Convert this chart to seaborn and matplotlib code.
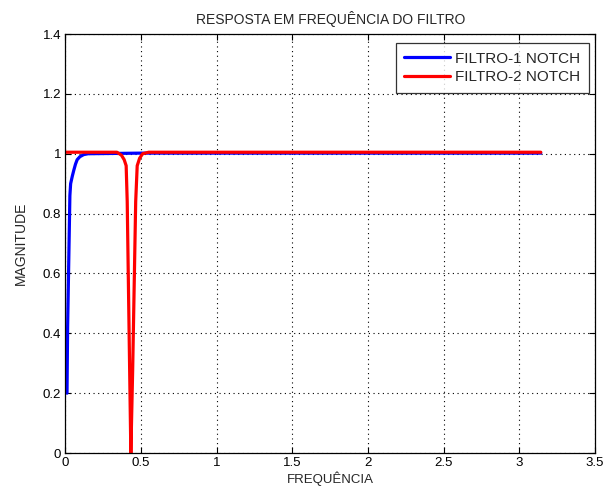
import matplotlib
matplotlib.use("Agg")
import matplotlib.pyplot as plt
import numpy as np
import pandas as pd
import seaborn as sns

# Magnitude response of the two notch filters (frequency in rad/sample)
freq_filtro1 = [0.010, 0.014, 0.029, 0.034, 0.045, 0.055, 0.066, 0.077, 0.095,
                0.120, 0.150, 0.500, 1.000, 2.000, 3.1416]
mag_filtro1 = [0.20, 0.42, 0.86, 0.90, 0.925, 0.945, 0.965, 0.98, 0.99,
               0.997, 1.000, 1.002, 1.002, 1.002, 1.002]

freq_filtro2 = [0.000, 0.340, 0.370, 0.388, 0.401, 0.408, 0.432, 0.444, 0.464,
                0.474, 0.490, 0.510, 0.550, 1.000, 2.000, 3.1416]
mag_filtro2 = [1.005, 1.005, 0.995, 0.980, 0.960, 0.840, 0.000, 0.277, 0.840,
               0.960, 0.985, 1.000, 1.005, 1.005, 1.005, 1.005]

series_names = ["FILTRO-1 NOTCH", "FILTRO-2 NOTCH"]
series_colors = ["#0000ff", "#ff0000"]

x_ticks = [0, 0.5, 1, 1.5, 2, 2.5, 3, 3.5]
x_tick_labels = ["0", "0.5", "1", "1.5", "2", "2.5", "3", "3.5"]
y_ticks = [0, 0.2, 0.4, 0.6, 0.8, 1, 1.2, 1.4]
y_tick_labels = ["0", "0.2", "0.4", "0.6", "0.8", "1", "1.2", "1.4"]

df = pd.concat([
    pd.DataFrame({"freq": freq_filtro1, "mag": mag_filtro1, "filtro": series_names[0]}),
    pd.DataFrame({"freq": freq_filtro2, "mag": mag_filtro2, "filtro": series_names[1]}),
], ignore_index=True)

sns.set_style("white")
plt.rcParams["font.family"] = ["Liberation Sans", "DejaVu Sans"]

fig = plt.figure(figsize=(6.07, 4.95), dpi=100)
ax = fig.add_axes([0.1079, 0.0848, 0.9802 - 0.1079, 0.9313 - 0.0848])

sns.lineplot(data=df, x="freq", y="mag", hue="filtro", hue_order=series_names,
             palette=series_colors, sort=False, estimator=None, linewidth=2.3,
             ax=ax)

ax.set_xlim(0, 3.5)
ax.set_ylim(0, 1.4)
ax.set_xticks(x_ticks)
ax.set_xticklabels(x_tick_labels)
ax.set_yticks(y_ticks)
ax.set_yticklabels(y_tick_labels)

ax.grid(True, color="black", linestyle=(0, (1, 3.2)), linewidth=0.8)
for side in ["left", "right", "top", "bottom"]:
    ax.spines[side].set_visible(True)
    ax.spines[side].set_color("black")
    ax.spines[side].set_linewidth(0.9)

ax.tick_params(direction="in", length=4, width=0.8, top=True, right=True,
               bottom=True, left=True, labelsize=9.5, colors="black", pad=3)

ax.set_title("RESPOSTA EM FREQUÊNCIA DO FILTRO", fontsize=10, pad=7)
ax.set_xlabel("FREQUÊNCIA", fontsize=9.5, labelpad=2)
ax.set_ylabel("MAGNITUDE", fontsize=10, labelpad=11)

leg = ax.legend(loc="upper right", bbox_to_anchor=(0.9887, 0.9778),
                borderaxespad=0, fontsize=11, frameon=True, fancybox=False,
                edgecolor="black", handlelength=3.0, handletextpad=0.35,
                labelspacing=0.3, borderpad=0.55)
leg.get_frame().set_linewidth(0.9)
leg.set_title(None)

fig.savefig("out.png", dpi=100, facecolor="white")
